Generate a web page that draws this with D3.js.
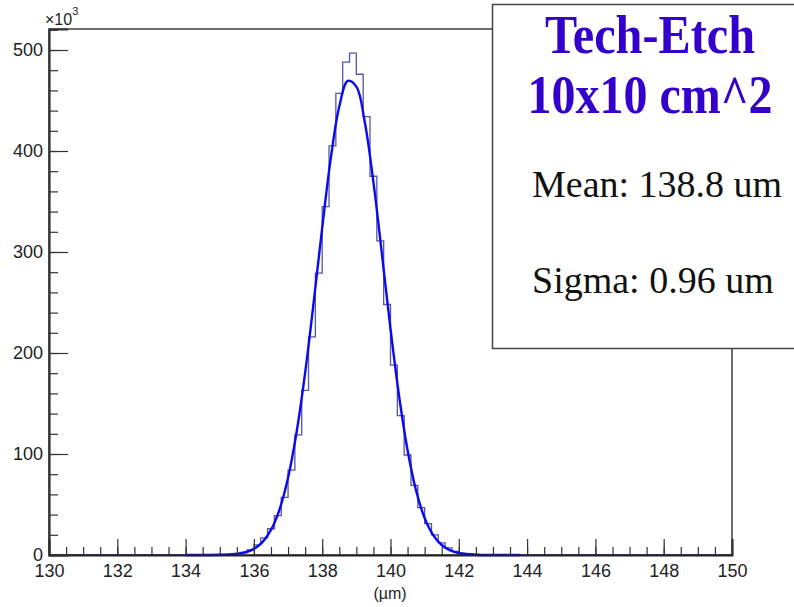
<!DOCTYPE html>
<html>
<head>
<meta charset="utf-8">
<script src="https://cdn.jsdelivr.net/npm/d3@7"></script>
<style>
  body { margin: 0; background: #ffffff; }
  svg { display: block; }
</style>
</head>
<body>
<svg width="794" height="607"></svg>
<script>
// histogram bins (lower edge, µm) and counts (x10^3)
const binWidth = 0.2;
const binLow = [135.0, 135.2, 135.4, 135.6, 135.8, 136.0, 136.2, 136.4, 136.6, 136.8,
                137.0, 137.2, 137.4, 137.6, 137.8, 138.0, 138.2, 138.4, 138.6, 138.8,
                139.0, 139.2, 139.4, 139.6, 139.8, 140.0, 140.2, 140.4, 140.6, 140.8,
                141.0, 141.2, 141.4, 141.6, 141.8, 142.0, 142.2, 142.4, 142.6];
const counts = [0.5, 1, 1.5, 2.5, 5, 10, 17, 26, 39, 57,
                84, 119, 163, 216, 279, 345, 405, 457, 488, 497,
                476, 434, 375, 311, 248, 188, 138, 99, 69, 47,
                31, 20, 12, 7, 3.5, 1.5, 1, 0.5, 0.3];

const fitX = [134.0, 134.5, 135.0, 135.5, 135.75, 136.0, 136.25, 136.5, 136.75, 137.0,
              137.25, 137.5, 137.75, 138.0, 138.25, 138.5, 138.75, 139.0, 139.25, 139.5,
              139.75, 140.0, 140.25, 140.5, 140.75, 141.0, 141.25, 141.5, 141.75, 142.0,
              142.5, 143.0, 143.8];
const fitY = [0, 0, 0.2, 1.1, 2.7, 6.1, 12.7, 24.8, 45, 76.5,
              121.6, 180.3, 250.1, 324, 392.4, 444, 469.4, 463.7, 428, 369.2,
              297.7, 224, 157.7, 103.8, 63.7, 36.6, 19.7, 9.9, 4.6, 2.0,
              0.3, 0.05, 0];

// axes
const xTicks = [130, 132, 134, 136, 138, 140, 142, 144, 146, 148, 150];
const yTicks = [0, 100, 200, 300, 400, 500];

const legendTitle = ['Tech-Etch', '10x10 cm^2'];
const legendStats = ['Mean: 138.8 um', 'Sigma: 0.96 um'];

const svg = d3.select('svg');

const x = d3.scaleLinear().domain([130, 150]).range([49, 732]);
const y = d3.scaleLinear().domain([0, 520.8]).range([555, 29]);

// frame
svg.append('rect')
  .attr('x', x(130))
  .attr('y', y(520.8))
  .attr('width', x(150) - x(130))
  .attr('height', y(0) - y(520.8))
  .attr('fill', 'none')
  .attr('stroke', '#222')
  .attr('stroke-width', 1.3);

// histogram as step outline
let pts = [[x(130), y(0)], [x(binLow[0]), y(0)]];
binLow.forEach((b, i) => {
  pts.push([x(b), y(counts[i])]);
  pts.push([x(b + binWidth), y(counts[i])]);
});
pts.push([x(binLow[binLow.length - 1] + binWidth), y(0)]);
pts.push([x(150), y(0)]);

svg.append('path')
  .attr('d', d3.line()(pts))
  .attr('fill', 'none')
  .attr('stroke', '#2a2a8c')
  .attr('stroke-opacity', 0.8)
  .attr('stroke-width', 1.3);

// fit curve
svg.append('path')
  .datum(fitX.map((v, i) => [v, fitY[i]]))
  .attr('d', d3.line()
    .x(d => x(d[0]))
    .y(d => y(d[1]))
    .curve(d3.curveCatmullRom))
  .attr('fill', 'none')
  .attr('stroke', '#0a0af0')
  .attr('stroke-width', 2.4);

// x axis
svg.append('g')
  .attr('transform', `translate(0,${y(0)})`)
  .call(d3.axisBottom(x).tickValues(d3.range(130, 150.01, 0.5)).tickSize(-8).tickFormat(''))
  .call(g => g.select('.domain').remove())
  .call(g => g.selectAll('line').attr('stroke', '#333').attr('stroke-width', 1.2));
svg.append('g')
  .attr('transform', `translate(0,${y(0)})`)
  .call(d3.axisBottom(x).tickValues(xTicks).tickSize(-16).tickPadding(8))
  .call(g => g.select('.domain').attr('stroke', '#222').attr('stroke-width', 2))
  .call(g => g.selectAll('line').attr('stroke', '#333').attr('stroke-width', 1.2))
  .call(g => g.selectAll('text')
    .attr('y', 22)
    .attr('dy', 0)
    .attr('font-family', 'Liberation Sans, Arial, sans-serif')
    .attr('font-size', 18)
    .attr('fill', '#222'));

// y axis
svg.append('g')
  .attr('transform', `translate(${x(130)},0)`)
  .call(d3.axisLeft(y).tickValues(d3.range(0, 521, 20)).tickSize(-9).tickFormat(''))
  .call(g => g.select('.domain').remove())
  .call(g => g.selectAll('line').attr('stroke', '#333').attr('stroke-width', 1.2));
svg.append('g')
  .attr('transform', `translate(${x(130)},0)`)
  .call(d3.axisLeft(y).tickValues(yTicks).tickSize(-19).tickPadding(6))
  .call(g => g.select('.domain').attr('stroke', '#333').attr('stroke-width', 2.2))
  .call(g => g.selectAll('line').attr('stroke', '#333').attr('stroke-width', 1.2))
  .call(g => g.selectAll('text')
    .attr('x', -6)
    .attr('font-family', 'Liberation Sans, Arial, sans-serif')
    .attr('font-size', 18)
    .attr('fill', '#222'));

// exponent label
const expo = svg.append('text')
  .attr('x', 45)
  .attr('y', 25)
  .attr('font-family', 'Liberation Sans, Arial, sans-serif')
  .attr('font-size', 16)
  .attr('fill', '#222')
  .text('×10');
expo.append('tspan')
  .attr('dy', -10)
  .attr('font-size', 11)
  .text('3');

// x axis title
svg.append('text')
  .attr('x', 390)
  .attr('y', 599)
  .attr('text-anchor', 'middle')
  .attr('font-family', 'Liberation Sans, Arial, sans-serif')
  .attr('font-size', 16)
  .attr('fill', '#222')
  .text('(µm)');

// stats box
svg.append('rect')
  .attr('x', 492.5)
  .attr('y', 4.5)
  .attr('width', 320)
  .attr('height', 344)
  .attr('fill', '#ffffff')
  .attr('stroke', '#444')
  .attr('stroke-width', 1.5);

svg.append('text')
  .attr('x', 650)
  .attr('y', 53)
  .attr('text-anchor', 'middle')
  .attr('font-family', 'Liberation Serif, Times New Roman, serif')
  .attr('font-weight', 'bold')
  .attr('font-size', 54)
  .attr('textLength', 210)
  .attr('lengthAdjust', 'spacingAndGlyphs')
  .attr('fill', '#3300cc')
  .text(legendTitle[0]);

svg.append('text')
  .attr('x', 650)
  .attr('y', 113)
  .attr('text-anchor', 'middle')
  .attr('font-family', 'Liberation Serif, Times New Roman, serif')
  .attr('font-weight', 'bold')
  .attr('font-size', 54)
  .attr('textLength', 245)
  .attr('lengthAdjust', 'spacingAndGlyphs')
  .attr('fill', '#3300cc')
  .text(legendTitle[1]);

svg.selectAll('.stat')
  .data(legendStats)
  .enter()
  .append('text')
  .attr('class', 'stat')
  .attr('x', 532)
  .attr('y', (d, i) => 197 + i * 96)
  .attr('font-family', 'Liberation Serif, Times New Roman, serif')
  .attr('font-size', 38)
  .attr('fill', '#111')
  .text(d => d);
</script>
</body>
</html>
